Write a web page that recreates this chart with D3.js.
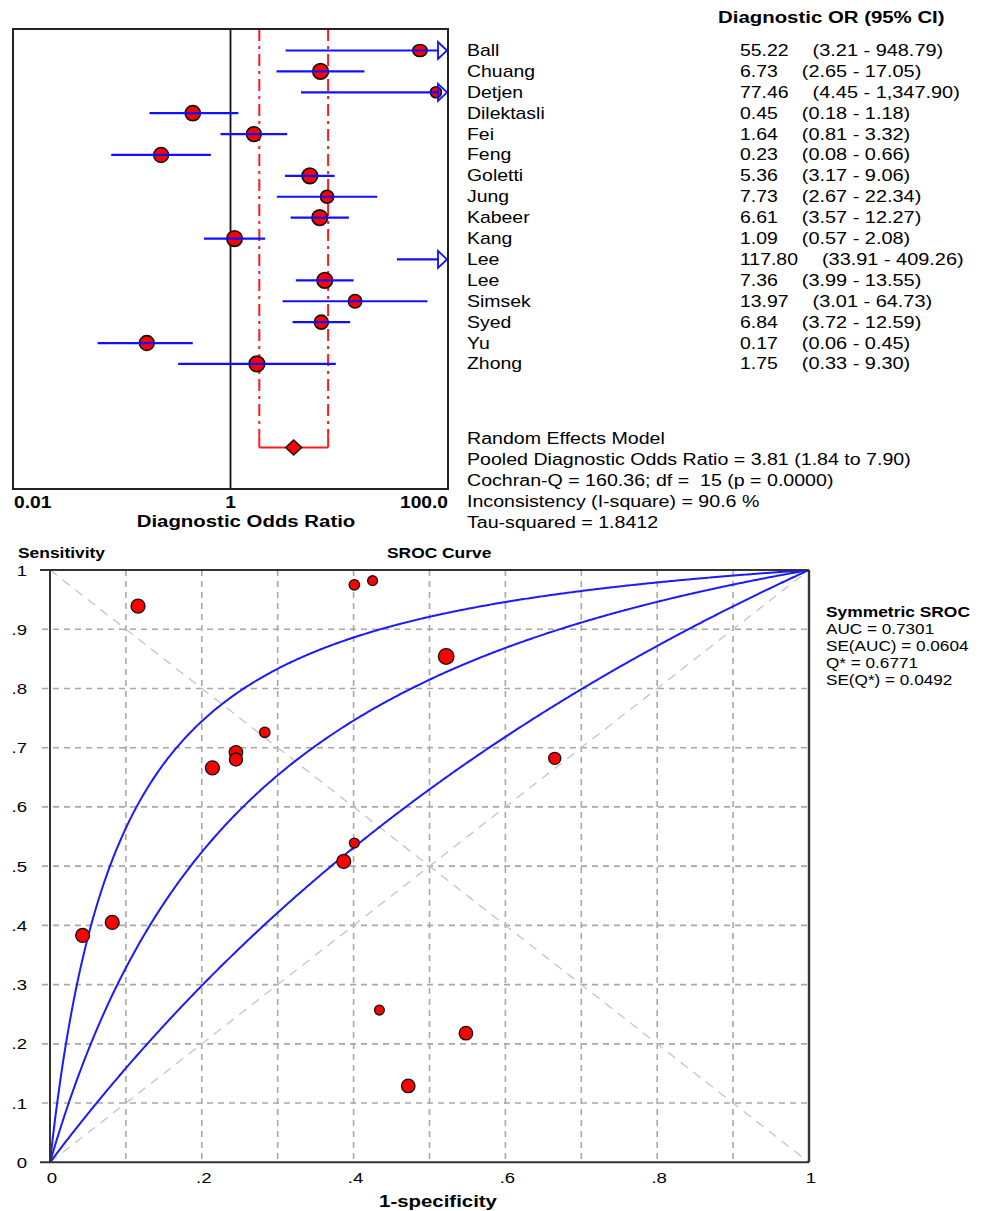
<!DOCTYPE html>
<html>
<head>
<meta charset="utf-8">
<script src="https://cdn.jsdelivr.net/npm/d3@7"></script>
<style>
  html, body { margin: 0; padding: 0; background: #fff; }
  svg { display: block; font-family: "Liberation Sans", Arial, sans-serif; }
  svg text { white-space: pre; }
</style>
</head>
<body>
<svg id="chart" width="982" height="1211"></svg>
<script>
// ---------------- DATA ----------------
const studies = ["Ball","Chuang","Detjen","Dilektasli","Fei","Feng","Goletti","Jung","Kabeer","Kang","Lee","Lee","Simsek","Syed","Yu","Zhong"];
const dor     = [55.22, 6.73, 77.46, 0.45, 1.64, 0.23, 5.36, 7.73, 6.61, 1.09, 117.80, 7.36, 13.97, 6.84, 0.17, 1.75];
const ciLow   = [3.21, 2.65, 4.45, 0.18, 0.81, 0.08, 3.17, 2.67, 3.57, 0.57, 33.91, 3.99, 3.01, 3.72, 0.06, 0.33];
const ciHigh  = [948.79, 17.05, 1347.90, 1.18, 3.32, 0.66, 9.06, 22.34, 12.27, 2.08, 409.26, 13.55, 64.73, 12.59, 0.45, 9.30];
const studyWeight = [0.6, 1.0, 0.5, 0.95, 0.9, 0.9, 1.0, 0.7, 1.0, 1.0, 0.9, 1.0, 0.75, 0.8, 0.9, 1.0];
const dorText = ["55.22","6.73","77.46","0.45","1.64","0.23","5.36","7.73","6.61","1.09","117.80","7.36","13.97","6.84","0.17","1.75"];
const ciText  = ["(3.21 - 948.79)","(2.65 - 17.05)","(4.45 - 1,347.90)","(0.18 - 1.18)","(0.81 - 3.32)","(0.08 - 0.66)","(3.17 - 9.06)","(2.67 - 22.34)","(3.57 - 12.27)","(0.57 - 2.08)","(33.91 - 409.26)","(3.99 - 13.55)","(3.01 - 64.73)","(3.72 - 12.59)","(0.06 - 0.45)","(0.33 - 9.30)"];
const pooled = {est: 3.81, low: 1.84, high: 7.90};
const forestTicks = [0.01, 1, 100];
const forestTickLabels = ["0.01", "1", "100.0"];
const summaryLines = [
  "Random Effects Model",
  "Pooled Diagnostic Odds Ratio = 3.81 (1.84 to 7.90)",
  "Cochran-Q = 160.36; df =  15 (p = 0.0000)",
  "Inconsistency (I-square) = 90.6 %",
  "Tau-squared = 1.8412"
];

// SROC
const fpr  = [0.116, 0.401, 0.425, 0.522, 0.283, 0.245, 0.245, 0.214, 0.401, 0.387, 0.665, 0.043, 0.082, 0.434, 0.548, 0.472];
const sens = [0.939, 0.975, 0.982, 0.854, 0.726, 0.692, 0.680, 0.666, 0.539, 0.508, 0.682, 0.383, 0.405, 0.257, 0.218, 0.129];
const srocWeight = [0.8, 0.45, 0.4, 1.0, 0.45, 0.75, 0.7, 0.8, 0.4, 0.8, 0.6, 0.8, 0.8, 0.4, 0.75, 0.75];
const curveDOR = [1.70, 4.40, 11.66];   // lower CI, symmetric SROC, upper CI
const srocTicks = [0, .1, .2, .3, .4, .5, .6, .7, .8, .9, 1];
const xTickLabels = ["0", ".2", ".4", ".6", ".8", "1"];
const legendLines = ["AUC = 0.7301", "SE(AUC) = 0.0604", "Q* = 0.6771", "SE(Q*) = 0.0492"];

// ---------------- DRAW ----------------
const svg = d3.select("#chart");
const SX = 1.2;
function label(x, y, s, o = {}) {
  return svg.append("text")
    .attr("transform", `translate(${x},${y}) scale(${o.sx || SX},1)`)
    .attr("font-size", o.size || 16.2)
    .attr("font-weight", o.bold ? "bold" : "normal")
    .attr("text-anchor", o.anchor || "start")
    .attr("fill", "#000")
    .text(s);
}

// ===== Forest plot =====
const fx = d3.scaleLog().domain([0.01, 100]).range([13, 448]);
const fy = d3.scaleLinear().domain([0, 19]).range([50.5, 447.5]);
const boxTop = 29, boxBottom = 489;
const fg = svg.append("g");

fg.append("line").attr("x1", fx(1)).attr("x2", fx(1)).attr("y1", boxTop).attr("y2", boxBottom)
  .attr("stroke", "#111").attr("stroke-width", 1.8);

[pooled.low, pooled.high].forEach(v => {
  fg.append("line").attr("x1", fx(v)).attr("x2", fx(v)).attr("y1", boxTop).attr("y2", fy(19) - 11)
    .attr("stroke", "#ff1a1a").attr("stroke-width", 2).attr("stroke-dasharray", "12,5,3,5");
  fg.append("line").attr("x1", fx(v)).attr("x2", fx(v)).attr("y1", fy(19) - 11).attr("y2", fy(19))
    .attr("stroke", "#ff1a1a").attr("stroke-width", 2);
});
fg.append("line").attr("x1", fx(pooled.low)).attr("x2", fx(pooled.high)).attr("y1", fy(19)).attr("y2", fy(19))
  .attr("stroke", "#ff1a1a").attr("stroke-width", 2);
const pd = fx(pooled.est), pyv = fy(19);
fg.append("path").attr("d", `M${pd - 8},${pyv} L${pd},${pyv - 7.5} L${pd + 8},${pyv} L${pd},${pyv + 7.5} Z`)
  .attr("fill", "#ff0000").attr("stroke", "#111").attr("stroke-width", 1.5);

const rScale = d3.scaleSqrt().domain([0, 1]).range([0, 7.8]);
const fmax = fx.domain()[1];
studies.forEach((s, i) => {
  const y = fy(i);
  if (dor[i] <= fmax) {
    const r = rScale(studyWeight[i]);
    fg.append("ellipse").attr("cx", fx(dor[i])).attr("cy", y)
      .attr("rx", i === 0 ? 7.2 : r).attr("ry", r)
      .attr("fill", "#ff0000").attr("stroke", "#111").attr("stroke-width", 1.6);
  }
  const clipped = ciHigh[i] > fmax;
  const x2 = clipped ? fx(fmax) - 9 : fx(ciHigh[i]);
  fg.append("line").attr("x1", fx(ciLow[i])).attr("x2", x2).attr("y1", y).attr("y2", y)
    .attr("stroke", "#1010ff").attr("stroke-width", 2.2);
  if (clipped) {
    const tx = fx(fmax) - 1;
    fg.append("path").attr("d", `M${tx - 9},${y - 8.5} L${tx},${y} L${tx - 9},${y + 8.5} Z`)
      .attr("fill", "none").attr("stroke", "#1010ff").attr("stroke-width", 1.8);
  }
});

fg.append("rect").attr("x", 13).attr("y", boxTop).attr("width", 435).attr("height", boxBottom - boxTop)
  .attr("fill", "none").attr("stroke", "#222").attr("stroke-width", 2);

forestTicks.forEach((t, i) => {
  const anchor = i === 0 ? "start" : (i === forestTicks.length - 1 ? "end" : "middle");
  label(fx(t) + (i === 0 ? 1 : 0), 508, forestTickLabels[i], {size: 16, bold: true, anchor});
});
label(246, 527, "Diagnostic Odds Ratio", {size: 17, bold: true, anchor: "middle"});

label(718, 23, "Diagnostic OR (95% CI)", {size: 17, bold: true});
studies.forEach((s, i) => {
  const y = fy(i) + 5.5;
  label(467, y, s);
  const v = label(740, y, dorText[i]);
  const w = v.node().getComputedTextLength() * SX;
  label(740 + w + 24, y, ciText[i], {sx: 1.23});
});
summaryLines.forEach((s, i) => label(467, 443.5 + i * 21, s, {sx: 1.21}));

// ===== SROC plot =====
const sx = d3.scaleLinear().domain([0, 1]).range([50, 809]);
const sy = d3.scaleLinear().domain([0, 1]).range([1162.3, 570]);
const sg = svg.append("g");

srocTicks.filter(t => t > 0 && t < 1).forEach(t => {
  sg.append("line").attr("x1", sx(t)).attr("x2", sx(t)).attr("y1", sy(1)).attr("y2", sy(0))
    .attr("stroke", "#a8a8a8").attr("stroke-width", 1.6).attr("stroke-dasharray", "6,5");
  sg.append("line").attr("x1", 42).attr("x2", sx(1)).attr("y1", sy(t)).attr("y2", sy(t))
    .attr("stroke", "#a8a8a8").attr("stroke-width", 1.6).attr("stroke-dasharray", "6,5");
});
sg.append("line").attr("x1", sx(0)).attr("y1", sy(0)).attr("x2", sx(1)).attr("y2", sy(1))
  .attr("stroke", "#c4c4c4").attr("stroke-width", 1.3).attr("stroke-dasharray", "9,7");
sg.append("line").attr("x1", sx(0)).attr("y1", sy(1)).attr("x2", sx(1)).attr("y2", sy(0))
  .attr("stroke", "#c4c4c4").attr("stroke-width", 1.3).attr("stroke-dasharray", "9,7");

const fgrid = d3.range(0, 1.0001, 0.002);
const lineGen = d3.line().x(d => sx(d[0])).y(d => sy(d[1]));
curveDOR.forEach(D => {
  const pts = fgrid.map(f => [f, (D * f) / (1 - f + D * f)]);
  sg.append("path").attr("d", lineGen(pts)).attr("fill", "none")
    .attr("stroke", "#1a1aff").attr("stroke-width", 2);
});

const srScale = d3.scaleSqrt().domain([0, 1]).range([0, 7.8]);
fpr.forEach((f, i) => {
  sg.append("circle").attr("cx", sx(f)).attr("cy", sy(sens[i])).attr("r", srScale(srocWeight[i]))
    .attr("fill", "#ff0000").attr("stroke", "#111").attr("stroke-width", 1.3);
});

sg.append("line").attr("x1", 40).attr("x2", sx(1)).attr("y1", sy(1)).attr("y2", sy(1)).attr("stroke", "#333").attr("stroke-width", 2);
sg.append("line").attr("x1", 40).attr("x2", sx(1)).attr("y1", sy(0)).attr("y2", sy(0)).attr("stroke", "#333").attr("stroke-width", 2);
sg.append("line").attr("x1", sx(0)).attr("x2", sx(0)).attr("y1", sy(1)).attr("y2", sy(0)).attr("stroke", "#333").attr("stroke-width", 2);
sg.append("line").attr("x1", sx(1)).attr("x2", sx(1)).attr("y1", sy(1)).attr("y2", sy(0)).attr("stroke", "#333").attr("stroke-width", 2.4);

const fmtTick = t => t === 0 ? "0" : (t === 1 ? "1" : d3.format(".1f")(t).replace(/^0/, ""));
srocTicks.forEach(t => label(27, sy(t) + 5.5, fmtTick(t), {size: 15.5, anchor: "end"}));
xTickLabels.forEach(s => label(sx(+("0" + s)) + 2, 1182.5, s, {size: 15.5, anchor: "middle"}));

label(18, 558, "Sensitivity", {size: 14.5, bold: true});
label(387, 558, "SROC Curve", {size: 14.5, bold: true});
label(438, 1207, "1-specificity", {size: 17, bold: true, anchor: "middle"});

label(826, 617, "Symmetric SROC", {size: 14.5, bold: true});
legendLines.forEach((s, i) => label(826, 634 + i * 17, s, {size: 14.3}));
</script>
</body>
</html>
